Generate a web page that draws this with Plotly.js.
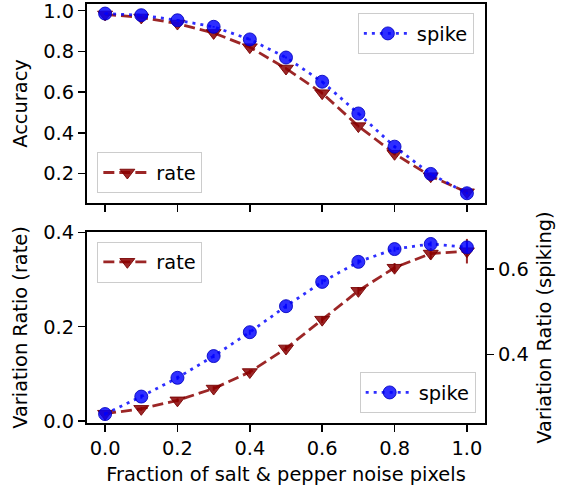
<!DOCTYPE html>
<html>
<head>
<meta charset="utf-8">
<script src="https://cdn.plot.ly/plotly-3.0.1.min.js"></script>
<style>html,body{margin:0;padding:0;background:#fff;}#chart{width:568px;height:488px;}</style>
</head>
<body>
<div id="chart"></div>
<script>
// Noise fraction (x)
const noise = [0.0, 0.1, 0.2, 0.3, 0.4, 0.5, 0.6, 0.7, 0.8, 0.9, 1.0];
// Top panel: accuracy
const accSpike = [0.986, 0.978, 0.953, 0.921, 0.859, 0.770, 0.651, 0.495, 0.332, 0.198, 0.103];
const accSpikeErr = [0.003, 0.003, 0.004, 0.004, 0.005, 0.005, 0.006, 0.006, 0.006, 0.006, 0.005];
const accRate = [0.982, 0.967, 0.937, 0.891, 0.821, 0.716, 0.595, 0.433, 0.297, 0.187, 0.108];
const accRateErr = [0.003, 0.003, 0.004, 0.004, 0.005, 0.006, 0.007, 0.007, 0.007, 0.007, 0.010];
// Bottom panel: variation ratio
const vrRate = [0.0157, 0.026, 0.044, 0.069, 0.104, 0.154, 0.215, 0.276, 0.325, 0.355, 0.360];
const vrRateErr = [0.003, 0.004, 0.004, 0.005, 0.005, 0.006, 0.007, 0.008, 0.010, 0.012, 0.026];
const vrSpike = [0.260, 0.301, 0.345, 0.396, 0.452, 0.513, 0.570, 0.617, 0.647, 0.659, 0.651];
const vrSpikeErr = [0.004, 0.005, 0.005, 0.005, 0.006, 0.006, 0.006, 0.006, 0.006, 0.006, 0.012];

const xTicks = [0.0, 0.2, 0.4, 0.6, 0.8, 1.0];
const xTickText = ['0.0', '0.2', '0.4', '0.6', '0.8', '1.0'];
const labelX = 'Fraction of salt & pepper noise pixels';
const labelAcc = 'Accuracy';
const labelRate = 'Variation Ratio (rate)';
const labelSpike = 'Variation Ratio (spiking)';

const FONT = 'DejaVu Sans';
const FS = 19.4;
const BLUE = 'rgba(0,0,255,0.82)';
const BLUE_EDGE = 'rgba(0,0,190,0.85)';
const RED = 'rgba(139,0,0,0.85)';
const RED_EDGE = 'rgba(120,0,0,0.9)';

function spikeTrace(y, err, xa, ya, leg) {
  return {
    x: noise, y: y, xaxis: xa, yaxis: ya, legend: leg,
    name: 'spike', type: 'scatter', mode: 'lines+markers',
    line: {color: BLUE, width: 2.8, dash: '3px,5px'},
    marker: {symbol: 'circle', size: 13, color: BLUE, line: {width: 1, color: BLUE_EDGE}},
    error_y: {type: 'data', array: err, visible: true, color: BLUE, thickness: 2, width: 0},
    showlegend: true
  };
}
function rateTrace(y, err, xa, ya, leg) {
  return {
    x: noise, y: y, xaxis: xa, yaxis: ya, legend: leg,
    name: 'rate', type: 'scatter', mode: 'lines+markers',
    line: {color: RED, width: 2.8, dash: '11px,5px'},
    marker: {symbol: 'triangle-down', size: 13, color: RED, line: {width: 1, color: RED_EDGE}},
    error_y: {type: 'data', array: err, visible: true, color: RED, thickness: 2, width: 0},
    showlegend: true
  };
}

const data = [
  rateTrace(accRate, accRateErr, 'x', 'y', 'legend2'),
  spikeTrace(accSpike, accSpikeErr, 'x', 'y', 'legend'),
  rateTrace(vrRate, vrRateErr, 'x2', 'y2', 'legend3'),
  spikeTrace(vrSpike, vrSpikeErr, 'x2', 'y3', 'legend4')
];

const axBase = {
  showline: true, linecolor: '#000', linewidth: 2, mirror: true,
  ticks: 'outside', ticklen: 7, tickwidth: 1.5, tickcolor: '#000',
  showgrid: false, zeroline: false, ticklabeloverflow: 'allow',
  tickfont: {family: FONT, size: FS, color: '#000'}
};

const legBase = {
  bgcolor: 'rgba(255,255,255,0.8)', bordercolor: '#cccccc', borderwidth: 1,
  itemwidth: 48,
  font: {family: FONT, size: FS, color: '#000'}, xref: 'paper', yref: 'paper'
};

const layout = {
  width: 568, height: 488,
  margin: {l: 87, r: 83, t: 4, b: 65},
  paper_bgcolor: '#fff', plot_bgcolor: '#fff',
  font: {family: FONT, size: FS, color: '#000'},
  xaxis: Object.assign({}, axBase, {
    domain: [0, 1], range: [-0.05, 1.05], anchor: 'y',
    tickvals: xTicks, ticktext: xTickText, showticklabels: false
  }),
  yaxis: Object.assign({}, axBase, {
    domain: [0.525, 1], range: [0.055, 1.033], anchor: 'x',
    tickmode: 'linear', tick0: 0, dtick: 0.2, tickformat: '.1f',
    title: {text: labelAcc, font: {family: FONT, size: FS}, standoff: 10}
  }),
  xaxis2: Object.assign({}, axBase, {
    domain: [0, 1], range: [-0.05, 1.05], anchor: 'y2',
    tickvals: xTicks, ticktext: xTickText,
    title: {text: labelX, font: {family: FONT, size: FS}, standoff: 8}
  }),
  yaxis2: Object.assign({}, axBase, {
    domain: [0, 0.4558], range: [-0.004, 0.4006], anchor: 'x2',
    tickmode: 'linear', tick0: 0, dtick: 0.2, tickformat: '.1f',
    title: {text: labelRate, font: {family: FONT, size: FS}, standoff: 10}
  }),
  yaxis3: Object.assign({}, axBase, {
    overlaying: 'y2', side: 'right', anchor: 'x2',
    range: [0.239, 0.687], mirror: false,
    tickmode: 'linear', tick0: 0, dtick: 0.2, tickformat: '.1f',
    title: {text: labelSpike, font: {family: FONT, size: FS}, standoff: 10}
  }),
  legend: Object.assign({}, legBase, {x: 0.972, y: 0.9778, xanchor: 'right', yanchor: 'top'}),
  legend2: Object.assign({}, legBase, {x: 0.026, y: 0.548, xanchor: 'left', yanchor: 'bottom'}),
  legend3: Object.assign({}, legBase, {x: 0.026, y: 0.4327, xanchor: 'left', yanchor: 'top'}),
  legend4: Object.assign({}, legBase, {x: 0.9766, y: 0.0231, xanchor: 'right', yanchor: 'bottom'})
};

Plotly.newPlot('chart', data, layout, {displayModeBar: false, staticPlot: true});
</script>
</body>
</html>
